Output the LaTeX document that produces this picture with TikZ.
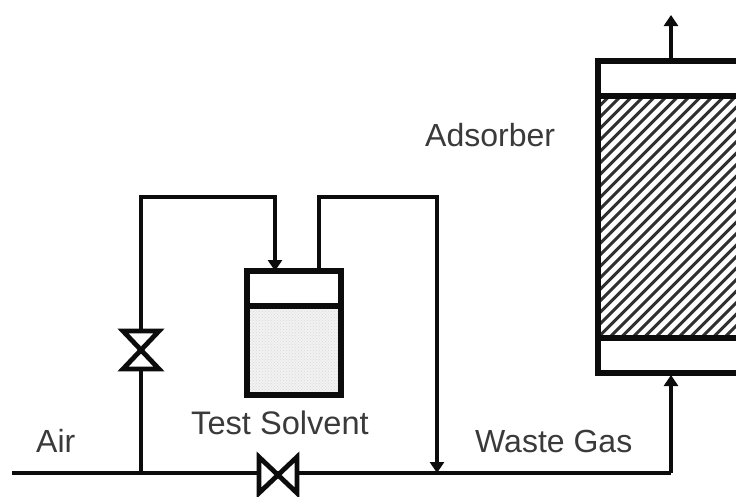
\documentclass[tikz,border=0pt]{standalone}
\usepackage{fontspec}
\setmainfont{Liberation Sans}
\usetikzlibrary{arrows.meta,patterns,calc}
\definecolor{ink}{HTML}{0C0C0C}
\definecolor{txt}{HTML}{3A3A3A}
\tikzset{
  pipe/.style={draw=ink,line width=4.2pt,line join=miter},
  flow/.style={pipe,-{Triangle[length=11pt,width=14pt]}},
  wall/.style={draw=ink,line width=6.4pt},
  divider/.style={draw=ink,line width=5.5pt},
  valvebody/.style={draw=ink,line width=4.8pt,line join=miter,fill=white},
  label/.style={text=txt,font=\fontsize{32}{32}\selectfont,anchor=base west,inner sep=0pt},
}
\begin{document}
\begin{tikzpicture}[x=1pt,y=-1pt]
\useasboundingbox (0,0) rectangle (736,496);
\fill[white] (0,0) rectangle (736,496);
% named points
\coordinate (airin) at (12,473);
\coordinate (tee) at (141,473);
\coordinate (vin) at (275,271);
\coordinate (vout) at (319,271);
\coordinate (bend) at (671,473);
\coordinate (merge) at (437,473);
\coordinate (adin) at (671,375);
\coordinate (adout) at (671,61);
\coordinate (stack) at (671,15);
\coordinate (vh) at (278,475);
\coordinate (vv) at (141,350);
% pipes
\draw[pipe] (airin) -- (bend);
\draw[flow] (tee) -- (vv) -- (141,197) -- (275,197) -- (vin);
\draw[flow] (vout) -- (319,197) -- (437,197) -- (merge);
\draw[flow] (bend) -- (adin);
\draw[flow] (adout) -- (stack);
% test solvent vessel
\fill[gray!10] (247,306) rectangle (341,395);
\fill[pattern=crosshatch dots,pattern color=gray!30] (247,306) rectangle (341,395);
\draw[divider] (247,306) -- (341,306);
\draw[wall] (247,271) rectangle (341,395);
% adsorber
\begin{scope}
\clip (598,96) rectangle (736,338);
\foreach \k in {0,...,36}
  \draw[ink!85,line width=3pt] ({598+11.5*\k-250},346) -- ({598+11.5*\k},96);
\end{scope}
\draw[divider] (598,96) -- (740,96);
\draw[divider] (598,338) -- (740,338);
\draw[wall] (745,61) -- (598,61) -- (598,373) -- (745,373);
% valves
\draw[valvebody] ($(vv)+(-18,-19)$) -- ($(vv)+(18,-19)$) -- ($(vv)+(-18,19)$) -- ($(vv)+(18,19)$) -- cycle;
\draw[valvebody] ($(vh)+(-19,-18)$) -- ($(vh)+(19,18)$) -- ($(vh)+(19,-18)$) -- ($(vh)+(-19,18)$) -- cycle;
% labels
\node[label] (adsorber) at (425,146) {Adsorber};
\node[label,font=\fontsize{32.6}{32}\selectfont] (solvent) at (191,434) {Test Solvent};
\node[label] (air) at (36,452) {Air};
\node[label] (waste) at (475,452) {Waste Gas};
\end{tikzpicture}
\end{document}
